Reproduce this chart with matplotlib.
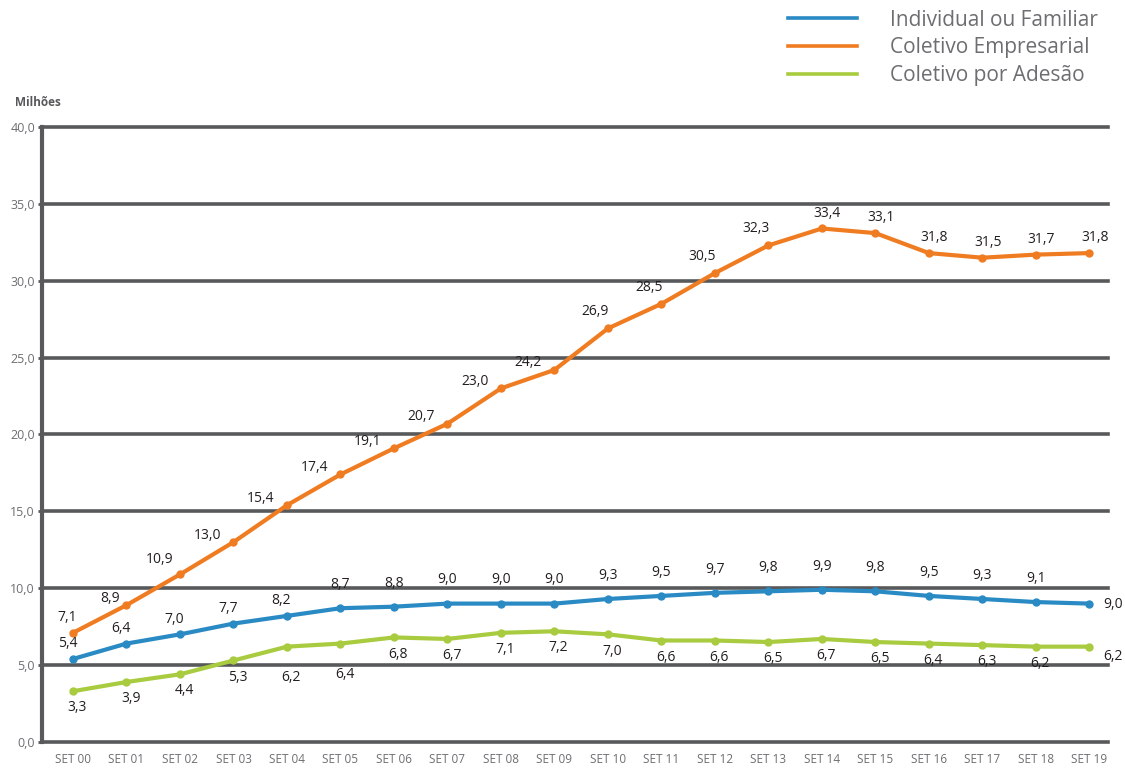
import matplotlib.pyplot as plt
from matplotlib.lines import Line2D

periodos = ["SET %02d" % i for i in range(20)]

individual = [5.4, 6.4, 7.0, 7.7, 8.2, 8.7, 8.8, 9.0, 9.0, 9.0,
              9.3, 9.5, 9.7, 9.8, 9.9, 9.8, 9.5, 9.3, 9.1, 9.0]
empresarial = [7.1, 8.9, 10.9, 13.0, 15.4, 17.4, 19.1, 20.7, 23.0, 24.2,
               26.9, 28.5, 30.5, 32.3, 33.4, 33.1, 31.8, 31.5, 31.7, 31.8]
adesao = [3.3, 3.9, 4.4, 5.3, 6.2, 6.4, 6.8, 6.7, 7.1, 7.2,
          7.0, 6.6, 6.6, 6.5, 6.7, 6.5, 6.4, 6.3, 6.2, 6.2]
series = ["Individual ou Familiar", "Coletivo Empresarial", "Coletivo por Adesão"]

yticks = [0, 5, 10, 15, 20, 25, 30, 35, 40]

azul = "#2a8ac4"
laranja = "#f07c22"
verde = "#a9cb3f"
cinza = "#58595b"
texto = "#6d6e71"
preto = "#231f20"

plt.rcParams['font.family'] = ['Open Sans', 'DejaVu Sans']

fig = plt.figure(figsize=(11.25, 7.68), dpi=100)
ax = fig.add_axes([0.0373, 0.0339, 0.9477, 0.8007])

x = list(range(len(periodos)))

for y in yticks:
    ax.axhline(y, color=cinza, lw=2.6, zorder=1, clip_on=False)

ax.plot(x, individual, color=azul, lw=3, marker="o", ms=5, zorder=3)
ax.plot(x, empresarial, color=laranja, lw=3, marker="o", ms=5, zorder=3)
ax.plot(x, adesao, color=verde, lw=3, marker="o", ms=5, zorder=3)

def fmt(v):
    return ("%.1f" % v).replace(".", ",")

def rotulo(txt, xy, dx, dy, ha="center", va="center"):
    ax.annotate(txt, xy, textcoords="offset points", xytext=(dx, dy),
                ha=ha, va=va, fontsize=10, color=preto, zorder=4)

last = len(x) - 1
for i in x:
    # laranja: a esquerda na subida, acima no topo
    if i == 0:
        odx, ody = -4, 11
    elif i == 1:
        odx, ody = -12, 5
    elif i == 2:
        odx, ody = -15, 11
    elif i <= 9:
        odx, ody = -19, 5
    elif i <= 13:
        odx, ody = -9, 12
    else:
        odx, ody = 4, 11
    rotulo(fmt(empresarial[i]), (i, empresarial[i]), odx, ody)

    if i == last:
        rotulo(fmt(individual[i]), (i, individual[i]), 17, -1)
        rotulo(fmt(adesao[i]), (i, adesao[i]), 17, -7)
        continue
    if i < 5:
        rotulo(fmt(individual[i]), (i, individual[i]), -4, 11)
    else:
        rotulo(fmt(individual[i]), (i, individual[i]), 0, 17)
    gdy = -22 if i in (4, 5) else -12
    rotulo(fmt(adesao[i]), (i, adesao[i]), 3, gdy)

ax.set_xlim(-0.58, 19.35)
ax.set_ylim(0, 40)
ax.set_xticks(x)
ax.set_xticklabels(periodos, fontsize=8.5, color=texto)
ax.set_yticks(yticks)
ax.set_yticklabels([fmt(v) for v in yticks], fontsize=9, color=texto)
ax.tick_params(axis="x", length=0, pad=8)
ax.tick_params(axis="y", length=3, width=2, color=cinza, pad=2)

for s in ["top", "right", "bottom"]:
    ax.spines[s].set_visible(False)
ax.spines["left"].set_color(cinza)
ax.spines["left"].set_linewidth(3)

fig.text(0.013, 0.866, "Milhões", fontsize=8.5, fontweight="bold", color=cinza, va="center")

handles = [Line2D([], [], color=c, lw=2.6) for c in (azul, laranja, verde)]
fig.legend(handles, series, loc="upper right", bbox_to_anchor=(0.993, 1.012), frameon=False,
           fontsize=15, labelcolor=texto, handlelength=3.3, handletextpad=1.6, labelspacing=0.32)

plt.savefig("out.png")
